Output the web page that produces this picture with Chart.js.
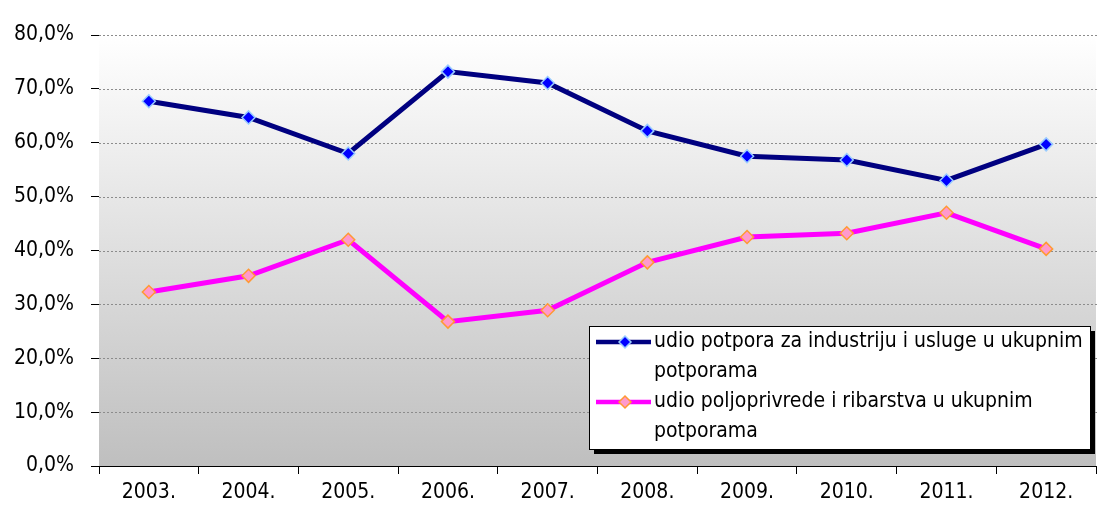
<!DOCTYPE html>
<html lang="hr">
<head>
<meta charset="UTF-8">
<title>Udio potpora</title>
<script src="https://cdn.jsdelivr.net/npm/chart.js"></script>
<style>
  body { margin: 0; background: #fff; }
  #wrap { width: 1108px; height: 529px; }
</style>
</head>
<body>
<div id="wrap"><canvas id="c"></canvas></div>
<script>
const years = ['2003.', '2004.', '2005.', '2006.', '2007.', '2008.', '2009.', '2010.', '2011.', '2012.'];
const industrija = [67.7, 64.7, 58.0, 73.2, 71.1, 62.2, 57.5, 56.8, 53.0, 59.7];
const poljoprivreda = [32.3, 35.3, 42.0, 26.8, 28.9, 37.8, 42.5, 43.2, 47.0, 40.3];
const seriesNames = ['udio potpora za industriju i usluge u ukupnim potporama',
                     'udio poljoprivrede i ribarstva u ukupnim potporama'];
const legendLines = [['udio potpora za industriju i usluge u ukupnim', 'potporama'],
                     ['udio poljoprivrede i ribarstva u ukupnim', 'potporama']];

const FONT = '"Liberation Sans Narrow", "Arial Narrow", "DejaVu Sans Condensed", sans-serif';

// gradient background + dotted grid lines
const backdrop = {
  id: 'backdrop',
  beforeDatasetsDraw(chart) {
    const { ctx, chartArea: a, scales: { y } } = chart;
    ctx.save();
    const g = ctx.createLinearGradient(0, a.top, 0, a.bottom);
    g.addColorStop(0, '#ffffff');
    g.addColorStop(1, '#bfbfbf');
    ctx.fillStyle = g;
    ctx.fillRect(a.left, a.top, a.right - a.left, a.bottom - a.top);
    ctx.strokeStyle = '#8c8c8c';
    ctx.lineWidth = 1;
    ctx.setLineDash([2, 2]);
    y.ticks.forEach(t => {
      if (t.value === 0) return;
      const py = Math.round(y.getPixelForValue(t.value)) + 0.5;
      ctx.beginPath();
      ctx.moveTo(a.left, py);
      ctx.lineTo(a.right + 2, py);
      ctx.stroke();
    });
    ctx.restore();
  }
};

// boxed legend with shadow inside the plot
const boxLegend = {
  id: 'boxLegend',
  afterDatasetsDraw(chart) {
    const ctx = chart.ctx;
    const x0 = 589, y0 = 326, w = 501, h = 123;
    ctx.save();
    ctx.fillStyle = '#000';
    ctx.fillRect(x0 + 5, y0 + 5, w, h);
    ctx.fillStyle = '#fff';
    ctx.fillRect(x0, y0, w, h);
    ctx.strokeStyle = '#000';
    ctx.lineWidth = 1;
    ctx.strokeRect(x0 + 0.5, y0 + 0.5, w, h);
    ctx.font = '21px ' + FONT;
    ctx.textBaseline = 'middle';
    chart.data.datasets.forEach((ds, i) => {
      const ly = y0 + 16 + i * 60;
      ctx.strokeStyle = ds.borderColor;
      ctx.lineWidth = 4.5;
      ctx.beginPath();
      ctx.moveTo(x0 + 7, ly);
      ctx.lineTo(x0 + 62, ly);
      ctx.stroke();
      ctx.fillStyle = ds.pointBackgroundColor;
      ctx.strokeStyle = ds.pointBorderColor;
      ctx.lineWidth = 1.5;
      const mx = x0 + 36, r = 6;
      ctx.beginPath();
      ctx.moveTo(mx, ly - r); ctx.lineTo(mx + r, ly); ctx.lineTo(mx, ly + r); ctx.lineTo(mx - r, ly);
      ctx.closePath();
      ctx.fill(); ctx.stroke();
      ctx.fillStyle = '#000';
      legendLines[i].forEach((t, k) => ctx.fillText(t, x0 + 65, ly + k * 30));
    });
    ctx.restore();
  }
};

new Chart(document.getElementById('c'), {
  type: 'line',
  data: {
    labels: years,
    datasets: [
      {
        label: seriesNames[0], data: industrija,
        borderColor: '#000080', borderWidth: 5,
        pointStyle: 'rectRot', pointRadius: 6.5, pointBorderWidth: 1.5,
        pointBackgroundColor: '#0000ff', pointBorderColor: '#99ccff', tension: 0
      },
      {
        label: seriesNames[1], data: poljoprivreda,
        borderColor: '#ff00ff', borderWidth: 5,
        pointStyle: 'rectRot', pointRadius: 6.5, pointBorderWidth: 1.5,
        pointBackgroundColor: '#ff99cc', pointBorderColor: '#ff9933', tension: 0
      }
    ]
  },
  options: {
    responsive: true, maintainAspectRatio: false, animation: false,
    layout: { padding: { top: 35, right: 12, left: 0, bottom: 0 } },
    plugins: { legend: { display: false }, tooltip: { enabled: false } },
    scales: {
      x: {
        offset: true,
        afterFit(s) { s.height = 63; },
        grid: { offset: true, drawOnChartArea: false, color: '#000', tickLength: 8 },
        border: { color: '#000', width: 1 },
        ticks: { color: '#000', font: { family: FONT, size: 21 }, padding: 6, maxRotation: 0 }
      },
      y: {
        min: 0, max: 80,
        afterFit(s) { s.width = 99; },
        grid: { drawOnChartArea: false, color: '#000', tickLength: 8 },
        border: { color: '#000', width: 1 },
        ticks: {
          stepSize: 10, color: '#000', padding: 17,
          font: { family: FONT, size: 21 },
          callback: v => v.toFixed(1).replace('.', ',') + '%'
        }
      }
    }
  },
  plugins: [backdrop, boxLegend]
});
</script>
</body>
</html>
